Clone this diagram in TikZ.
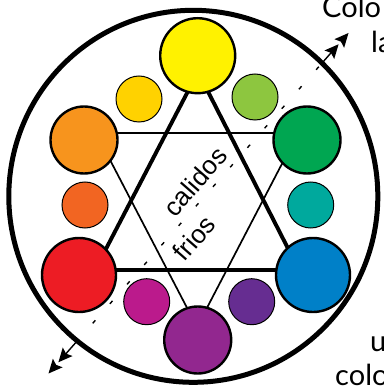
\documentclass[tikz,border=0pt]{standalone}
\usepackage{fontspec}
\setmainfont{Liberation Sans}
\newfontfamily\edgefont{Lato}
\usetikzlibrary{calc}
\definecolor{cYellow}{HTML}{FFF200}
\definecolor{cYelOr}{HTML}{FFD200}
\definecolor{cYelGr}{HTML}{8DC63F}
\definecolor{cOrange}{HTML}{F7941D}
\definecolor{cGreen}{HTML}{00A651}
\definecolor{cRedOr}{HTML}{F26522}
\definecolor{cTeal}{HTML}{00A99D}
\definecolor{cRed}{HTML}{ED1C24}
\definecolor{cBlue}{HTML}{0080C8}
\definecolor{cMagenta}{HTML}{BB1A8C}
\definecolor{cPurple}{HTML}{92278F}
\definecolor{cViolet}{HTML}{662D91}
% filled arrowhead: #1 tip coordinate, #2 coordinate it points away from
\newcommand\myhead[2]{%
  \fill (#1) -- ($($(#1)!14pt!(#2)$)!6.5pt!90:(#1)$) -- ($(#1)!11.5pt!(#2)$)
        -- ($($(#1)!14pt!(#2)$)!6.5pt!-90:(#1)$) -- cycle;}
\begin{document}
\begin{tikzpicture}[x=1pt,y=-1pt,
  bigdot/.style={circle,draw=black,line width=2.4pt,minimum size=#1,inner sep=0pt},
  smalldot/.style={circle,draw=black,line width=1pt,minimum size=46pt,inner sep=0pt},
  thickline/.style={line width=3.9pt},
  thinline/.style={line width=1.7pt},
  axis/.style={line width=1.4pt,dash pattern=on 4pt off 22pt},
  label/.style={font=\fontsize{26}{30}\selectfont,inner sep=0pt},
  edge/.style={font=\edgefont\fontsize{29}{35}\selectfont,anchor=base west,inner sep=0pt}]
\useasboundingbox (0,0) rectangle (383,387);
\draw[line width=5pt] (193.3,196.3) ellipse [x radius=184.5pt, y radius=186pt];
% triangle corners
\coordinate (T1) at (198,72);
\coordinate (T2) at (95,270);
\coordinate (T3) at (299,270);
\coordinate (S1) at (96,133);
\coordinate (S2) at (298,133);
\coordinate (S3) at (197,327);
\draw[thinline] (S1) -- (S2) -- (S3) -- cycle;
\draw[thickline,line join=miter] (T1) -- (T2) -- (T3) -- cycle;
% axis
\coordinate (A1) at (48.5,373.5);
\coordinate (A2) at (348.5,33);
\coordinate (A1b) at ($(A1)!15pt!(A2)$);
\coordinate (A2b) at ($(A2)!15pt!(A1)$);
\coordinate (C1) at ($(A1)!0.09!(A2)$);
\coordinate (C2) at ($(A1)!0.91!(A2)$);
\draw[axis] (C1) -- (C2);
\draw[line width=1.4pt] (C1) -- ($(A1)!26pt!(A2)$);
\draw[line width=1.4pt] (C2) -- ($(A2)!26pt!(A1)$);
\myhead{A1}{A2}
\myhead{A1b}{A2}
\myhead{A2}{A1}
\myhead{A2b}{A1}
% circles
\node[bigdot=75pt,fill=cYellow] (yellow) at (197.7,55.7) {};
\node[bigdot=67pt,fill=cOrange] (orange) at (84,140) {};
\node[bigdot=67pt,fill=cGreen] (green) at (307,140) {};
\node[bigdot=74pt,fill=cRed] (red) at (79,275) {};
\node[bigdot=74pt,fill=cBlue] (blue) at (313,275) {};
\node[bigdot=67pt,fill=cPurple] (purple) at (197.7,340) {};
\node[smalldot,fill=cYelOr] (yelor) at (139,99) {};
\node[smalldot,fill=cYelGr] (yelgr) at (255,97) {};
\node[smalldot,fill=cRedOr] (redor) at (85,205) {};
\node[smalldot,fill=cTeal] (teal) at (310.7,205) {};
\node[smalldot,fill=cMagenta] (magenta) at (146.7,301.7) {};
\node[smalldot,fill=cViolet] (violet) at (251.7,301.7) {};
% labels
\node[label,rotate=48.8] (warm) at (195,181.5) {calidos};
\node[label,rotate=48.8] (cold) at (194,238) {frios};
\node[edge] (t1) at (322,18) {Colo};
\node[edge] (t2) at (371,53) {la};
\node[edge] (t3) at (370,351.5) {u};
\node[edge] (t4) at (335,385) {colo};
\end{tikzpicture}
\end{document}
